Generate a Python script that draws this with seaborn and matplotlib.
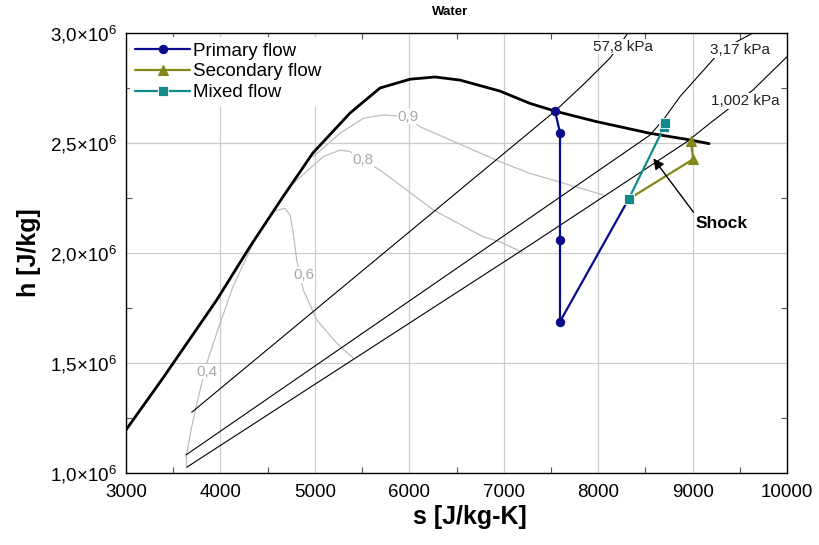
import matplotlib
matplotlib.use("Agg")
import matplotlib.pyplot as plt
import seaborn as sns
from matplotlib.ticker import FuncFormatter, MultipleLocator

# ---- saturation dome of water (s in J/kg-K, h in J/kg) ----
dome_s = [3000, 3392, 3960, 4313, 4663, 4980, 5372, 5690, 6008, 6273,
          6537, 6960, 7278, 7543, 7984, 8550, 8973, 9175]
dome_h = [1.196e6, 1.432e6, 1.786e6, 2.029e6, 2.256e6, 2.455e6, 2.636e6,
          2.750e6, 2.790e6, 2.800e6, 2.786e6, 2.736e6, 2.680e6, 2.645e6,
          2.597e6, 2.544e6, 2.514e6, 2.497e6]

# ---- isobars ----
p578_s = [3696, 7543, 7861, 8126, 8316]
p578_h = [1.276e6, 2.645e6, 2.773e6, 2.886e6, 3.000e6]
p317_s = [3635, 8549, 8700, 8867, 9312, 9640]
p317_h = [1.082e6, 2.536e6, 2.611e6, 2.711e6, 2.925e6, 3.000e6]
p1002_s = [3646, 7278, 8941, 9185, 9640, 10000]
p1002_h = [1.027e6, 2.036e6, 2.506e6, 2.590e6, 2.741e6, 2.892e6]
isobar_labels = ["57,8 kPa", "3,17 kPa", "1,002 kPa"]
isobar_label_s = [8263, 9502, 9555]
isobar_label_h = [2.938e6, 2.923e6, 2.691e6]

# ---- lines of constant quality ----
q04_s = [3641, 3641, 3696, 3784, 3855, 3960, 4133, 4366]
q04_h = [1.023e6, 1.082e6, 1.211e6, 1.377e6, 1.498e6, 1.635e6, 1.847e6, 2.063e6]
q06_s = [4560, 4684, 4737, 4772, 4808, 4843, 4878, 5020, 5231, 5407]
q06_h = [2.190e6, 2.203e6, 2.173e6, 2.090e6, 1.968e6, 1.900e6, 1.832e6,
         1.696e6, 1.590e6, 1.522e6]
q08_s = [4772, 5089, 5266, 5372, 5510, 5690, 6254, 6781, 6961, 7193]
q08_h = [2.317e6, 2.438e6, 2.468e6, 2.461e6, 2.423e6, 2.377e6, 2.196e6,
         2.074e6, 2.051e6, 2.004e6]
q09_s = [4984, 5266, 5513, 5725, 5986, 6113, 6961, 7278, 8055]
q09_h = [2.438e6, 2.544e6, 2.612e6, 2.627e6, 2.620e6, 2.574e6, 2.415e6,
         2.362e6, 2.264e6]
quality_labels = ["0,4", "0,6", "0,8", "0,9"]
quality_label_s = [3855, 4880, 5510, 5986]
quality_label_h = [1.461e6, 1.900e6, 2.423e6, 2.620e6]

# ---- ejector states ----
primary_s = [7543, 7596, 7596, 7596, 8323]
primary_h = [2.645e6, 2.547e6, 2.059e6, 1.688e6, 2.245e6]
secondary_s = [8980, 9008, 8323]
secondary_h = [2.509e6, 2.427e6, 2.245e6]
mixed_s = [8323, 8700, 8708]
mixed_h = [2.245e6, 2.574e6, 2.590e6]

sns.set_theme(style="white")
plt.rcParams["font.family"] = ["Liberation Sans", "DejaVu Sans"]
plt.rcParams["mathtext.fontset"] = "custom"
plt.rcParams["mathtext.rm"] = "Liberation Sans"
plt.rcParams["mathtext.it"] = "Liberation Sans"
plt.rcParams["text.color"] = "black"
plt.rcParams["axes.labelcolor"] = "black"

fig = plt.figure(figsize=(8.19, 5.45), dpi=100)
ax = fig.add_axes([126 / 819, 72 / 545, 661 / 819, 440 / 545])

thin_gray = "#bdbdbd"
for qs, qh in [(q04_s, q04_h), (q06_s, q06_h), (q08_s, q08_h), (q09_s, q09_h)]:
    sns.lineplot(x=qs, y=qh, sort=False, estimator=None, color=thin_gray,
                 lw=0.9, ax=ax, legend=False, zorder=2)
for lab, s, h in zip(quality_labels, quality_label_s, quality_label_h):
    ax.text(s, h, lab, color="#a8a8a8", fontsize=11, ha="center", va="center",
            zorder=3, bbox=dict(fc="white", ec="none", pad=0.5))

for ps, ph in [(p578_s, p578_h), (p317_s, p317_h), (p1002_s, p1002_h)]:
    sns.lineplot(x=ps, y=ph, sort=False, estimator=None, color="black",
                 lw=0.8, ax=ax, legend=False, zorder=4)
for lab, s, h in zip(isobar_labels, isobar_label_s, isobar_label_h):
    ax.text(s, h, lab, color="#222222", fontsize=11, ha="center", va="center",
            zorder=5, bbox=dict(fc="white", ec="none", pad=0.5))

sns.lineplot(x=dome_s, y=dome_h, sort=False, estimator=None, color="black",
             lw=2.0, ax=ax, legend=False, zorder=6)

sns.lineplot(x=primary_s, y=primary_h, sort=False, estimator=None,
             color="#0a0a8c", lw=1.6, marker="o", markersize=6,
             markeredgecolor="#0a0a8c", label="Primary flow", ax=ax, zorder=7)
sns.lineplot(x=secondary_s, y=secondary_h, sort=False, estimator=None,
             color="#85861a", lw=1.6, marker="^", markersize=7,
             markeredgecolor="#85861a", label="Secondary flow", ax=ax, zorder=7)
sns.lineplot(x=mixed_s, y=mixed_h, sort=False, estimator=None,
             color="#138a8a", lw=1.6, marker="s", markersize=7,
             markeredgecolor="white", markeredgewidth=0.6,
             label="Mixed flow", ax=ax, zorder=8)

ax.annotate("Shock", xy=(8584, 2.430e6), xytext=(9036, 2.136e6),
            fontsize=12.5, fontweight="bold", ha="left", va="center",
            arrowprops=dict(arrowstyle="-|>", color="black", lw=1.0,
                            mutation_scale=16, shrinkA=0, shrinkB=0,
                            relpos=(0.0, 1.0)), zorder=9)

ax.set_xlim(3000, 10000)
ax.set_ylim(1.0e6, 3.0e6)
ax.xaxis.set_major_locator(MultipleLocator(1000))
ax.xaxis.set_minor_locator(MultipleLocator(500))
ax.yaxis.set_major_locator(MultipleLocator(0.5e6))
ax.yaxis.set_minor_locator(MultipleLocator(0.25e6))


def sci_fmt(v, _pos):
    mant = f"{v / 1e6:.1f}".replace(".", "{,}")
    return r"$\mathregular{" + mant + r"{\times}10^{6}}$"


ax.yaxis.set_major_formatter(FuncFormatter(sci_fmt))
ax.grid(True, which="major", color="#cccccc", lw=0.9)
ax.tick_params(which="both", direction="in", bottom=True, left=True,
               top=True, right=True, colors="#555555", labelcolor="black",
               labelsize=13.5)
ax.tick_params(which="major", length=0, width=0.8)
ax.tick_params(axis="x", which="major", pad=8)
ax.tick_params(axis="y", which="major", pad=7)
ax.tick_params(which="minor", length=4, width=0.8)
for sp in ax.spines.values():
    sp.set_color("black")
    sp.set_linewidth(1.0)

ax.set_xlabel("s [J/kg-K]", fontsize=18, fontweight="bold", color="black")
ax.set_ylabel("h [J/kg]", fontsize=18, fontweight="bold", color="black")
ax.xaxis.set_label_coords(0.52, -0.072)
ax.yaxis.set_label_coords(-0.128, 0.5)

fig.text(450 / 819, 1 - 12 / 545, "Water", fontsize=9.5, fontweight="bold",
         ha="center", va="center")

ax.legend(loc="upper left", bbox_to_anchor=(0.0, 1.0), borderaxespad=0.2,
          fontsize=13.5, handlelength=2.9, handletextpad=0.15,
          labelspacing=0.2, frameon=True, facecolor="white",
          edgecolor="none", framealpha=1.0, borderpad=0.3)

fig.savefig("out.png", dpi=100)
